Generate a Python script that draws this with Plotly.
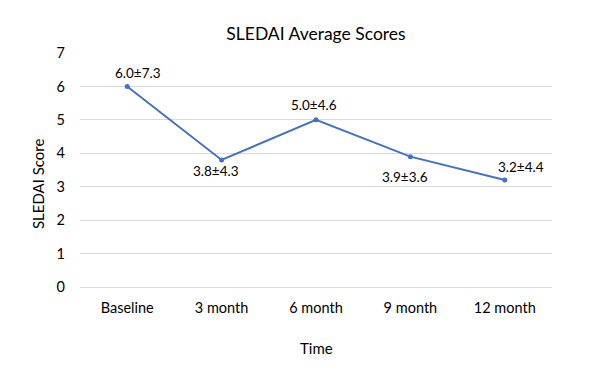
import plotly.graph_objects as go

categories = ["Baseline", "3 month", "6 month", "9 month", "12 month"]
means = [6.0, 3.8, 5.0, 3.9, 3.2]
sds = [7.3, 4.3, 4.6, 3.6, 4.4]
# label offsets from each point, in pixels (style only)
label_dx = [11, -5.5, -2, -5, 16]
label_dy = [13, -11.5, 14.5, -20, 13.5]

labels = [f"{m:.1f}±{s:.1f}" for m, s in zip(means, sds)]
FONT = "Lato, Open Sans, sans-serif"

fig = go.Figure(go.Scatter(
    x=categories, y=means, mode="lines+markers",
    line=dict(color="#4472C4", width=2),
    marker=dict(color="#4472C4", size=5),
    cliponaxis=False,
))

for c, m, t, dx, dy in zip(categories, means, labels, label_dx, label_dy):
    fig.add_annotation(x=c, y=m, text=t, showarrow=False, xshift=dx, yshift=dy,
                       xanchor="center", yanchor="middle",
                       font=dict(family=FONT, size=13.5, color="#000000"))

# axis titles
fig.add_annotation(xref="paper", yref="paper", x=-0.089, y=0.444, text="SLEDAI Score",
                   textangle=-90, showarrow=False, xanchor="center", yanchor="middle",
                   font=dict(family=FONT, size=15, color="#000000"))
fig.add_annotation(xref="paper", yref="paper", x=0.5, y=-0.261, text="Time",
                   showarrow=False, xanchor="center", yanchor="middle",
                   font=dict(family=FONT, size=15, color="#000000"))

fig.update_layout(
    width=592, height=370,
    margin=dict(l=72, r=48, t=45, b=91),
    paper_bgcolor="white", plot_bgcolor="white",
    font=dict(family=FONT, color="#000000"),
    title=dict(text="SLEDAI Average Scores", xref="paper", x=0.5, xanchor="center",
               y=0.931, yanchor="middle", font=dict(size=17.5, color="#000000")),
    showlegend=False,
)
fig.update_xaxes(
    range=[-0.5, 4.5],
    tickfont=dict(size=14.5), showgrid=False, zeroline=False, showline=False,
    ticks="", ticklabelstandoff=10,
)
fig.update_yaxes(
    range=[0, 7], dtick=1, tickfont=dict(size=14.5),
    showgrid=True, gridcolor="#D9D9D9", gridwidth=1,
    zeroline=True, zerolinecolor="#D9D9D9", zerolinewidth=1,
    showline=False, ticks="", ticklabelstandoff=14,
)

fig.write_html("out.html")
